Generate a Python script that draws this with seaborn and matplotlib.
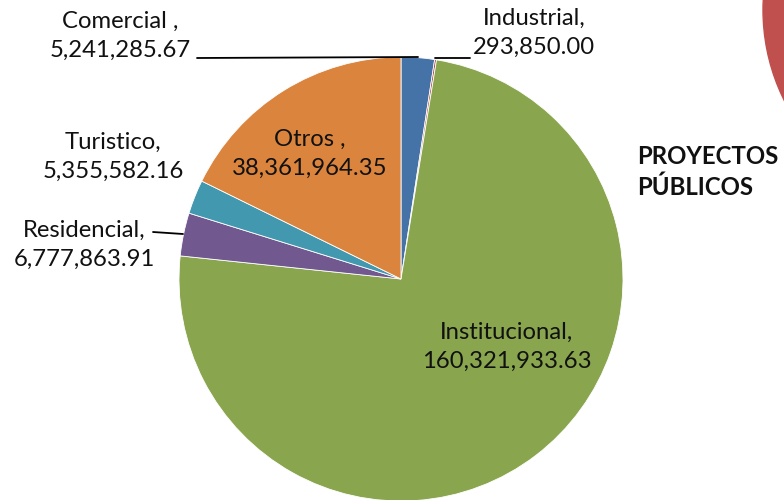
#Pie chart of project amounts by category (proyectos públicos).

import matplotlib
matplotlib.use("Agg")
import matplotlib.pyplot as plt
from matplotlib.patches import Circle
import seaborn as sns

# data, clockwise from 12 o'clock
categories = ["Comercial", "Industrial", "Institucional", "Residencial", "Turistico", "Otros"]
values = [5241285.67, 293850.00, 160321933.63, 6777863.91, 5355582.16, 38361964.35]
label_names = ["Comercial ,", "Industrial,", "Institucional,", "Residencial,", "Turistico,", "Otros ,"]
colors = ["#4572A7", "#AA4643", "#89A54E", "#71588F", "#4198AF", "#DB843D"]

sns.set_theme(style="white")
plt.rcParams["font.family"] = ["Lato", "DejaVu Sans"]

fig = plt.figure(figsize=(7.84, 5), dpi=100)
ax = fig.add_axes([0, 0, 1, 1])

# pie in pixel-like coords (y up)
center = (401, 221)
ax.pie(
    values,
    colors=sns.color_palette(colors),
    startangle=90,
    counterclock=False,
    center=center,
    radius=222,
    wedgeprops=dict(edgecolor="white", linewidth=0.6),
)
ax.set_xlim(0, 784)
ax.set_ylim(0, 500)
ax.set_aspect("equal")
ax.axis("off")

# label positions (x, y) for each category block
label_pos = [(120, 464), (534, 467), (507, 153), (84, 255), (113, 343), (310, 346)]
fs = 17.2
for name, val, (x, y) in zip(label_names, values, label_pos):
    ax.text(x, y, f"{name}\n{val:,.2f}", ha="center", va="center",
            fontsize=fs, linespacing=1.45, color="#111111")

# leader lines
ax.plot([197, 418], [442, 443], color="black", lw=1.3)
ax.plot([435, 470], [442, 442], color="black", lw=1.3)
ax.plot([153, 183], [268, 266], color="black", lw=1.3)

ax.text(637, 328, "PROYECTOS\nPÚBLICOS", ha="left", va="center",
        fontsize=17.3, fontweight="bold", linespacing=1.35, color="#111111")

# partial red circle in the corner
ax.add_patch(Circle((966, 490), 203, color="#C0504D", clip_on=True))

fig.savefig("out.png", dpi=100)
